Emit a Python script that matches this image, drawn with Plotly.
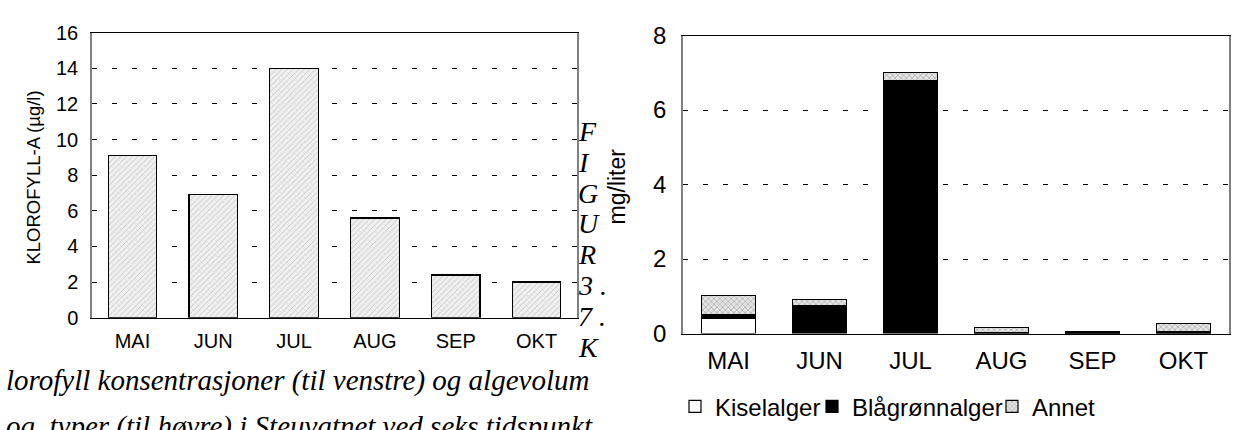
import plotly.graph_objects as go

W, H = 1235, 430

months = ["MAI", "JUN", "JUL", "AUG", "SEP", "OKT"]
klorofyll = [9.1, 6.9, 14.0, 5.6, 2.4, 2.0]

kiselalger = [0.41, 0.02, 0.02, 0.01, 0.0, 0.01]
blagronnalger = [0.09, 0.73, 6.76, 0.01, 0.02, 0.03]
annet = [0.52, 0.17, 0.23, 0.15, 0.03, 0.23]

left_yticks = [0, 2, 4, 6, 8, 10, 12, 14, 16]
right_yticks = [0, 2, 4, 6, 8]

fig_letters = ["F", "I", "G", "U", "R", "3 .", "7 .", "K"]
caption1 = "lorofyll konsentrasjoner (til venstre) og algevolum"
caption2 = "og  typer (til høyre) i Steuvatnet ved seks tidspunkt"


def px(x):
    return x / W


def py(y):
    return 1 - y / H


SANS = "Liberation Sans, Arial, sans-serif"
SERIF = "Liberation Serif, Times New Roman, serif"

fig = go.Figure()

fig.add_trace(go.Bar(
    x=months, y=klorofyll, width=0.6, showlegend=False,
    marker=dict(color="#e6e6e6", line=dict(color="black", width=1.2),
                pattern=dict(shape="/", fgcolor="#555", bgcolor="#efefef", size=4, solidity=0.12)),
    xaxis="x", yaxis="y",
))

fig.add_trace(go.Bar(
    x=months, y=kiselalger, width=0.6, name="Kiselalger", legend="legend",
    marker=dict(color="white", line=dict(color="black", width=1.2)),
    xaxis="x2", yaxis="y2",
))
fig.add_trace(go.Bar(
    x=months, y=blagronnalger, width=0.6, name="Blågrønnalger", legend="legend2",
    marker=dict(color="black", line=dict(color="black", width=1.2)),
    xaxis="x2", yaxis="y2",
))
fig.add_trace(go.Bar(
    x=months, y=annet, width=0.6, name="Annet", legend="legend3",
    marker=dict(color="#d0d0d0", line=dict(color="black", width=1.2),
                pattern=dict(shape="x", fgcolor="#666", bgcolor="#e4e4e4", size=4, solidity=0.3)),
    xaxis="x2", yaxis="y2",
))

grid = dict(showgrid=True, gridcolor="black", gridwidth=1, griddash="5px,15px")


def leg(xpix):
    return dict(orientation="h", x=px(xpix), y=py(419), xanchor="left", yanchor="middle",
                font=dict(size=24), itemwidth=30, bgcolor="rgba(0,0,0,0)")


fig.update_layout(
    width=W, height=H, margin=dict(l=0, r=0, t=0, b=0),
    paper_bgcolor="white", plot_bgcolor="white", barmode="stack",
    font=dict(family=SANS, color="black"),
    xaxis=dict(domain=[px(92), px(577)], anchor="y", showline=True, linecolor="black", linewidth=1,
               mirror=True, ticks="", tickfont=dict(size=20), ticklabelstandoff=5, showgrid=False),
    yaxis=dict(domain=[py(324), py(20)], anchor="x", range=[0, 16], tickvals=left_yticks,
               showline=True, linecolor="#808080", linewidth=1.5, mirror=True, ticks="",
               tickfont=dict(size=20), ticklabelstandoff=8, zeroline=False, **grid),
    xaxis2=dict(domain=[px(683), px(1229)], anchor="y2", showline=True, linecolor="black", linewidth=1,
                mirror=True, ticks="", tickfont=dict(size=24), ticklabelstandoff=6, showgrid=False),
    yaxis2=dict(domain=[py(341), py(23)], anchor="x2", range=[0, 8], tickvals=right_yticks,
                showline=True, linecolor="#808080", linewidth=1.5, mirror=True, ticks="",
                tickfont=dict(size=24), ticklabelstandoff=10, zeroline=False, **grid),
    legend=leg(675),
    legend2=leg(812),
    legend3=leg(992),
)

ann = []
ann.append(dict(text="KLOROFYLL-A (µg/l)", x=px(21), y=py(175), xref="paper", yref="paper",
                showarrow=False, textangle=-90, font=dict(size=18.5, family=SANS)))
ann.append(dict(text="mg/liter", x=px(617), y=py(184), xref="paper", yref="paper",
                showarrow=False, textangle=-90, font=dict(size=23, family=SANS)))
for i, ch in enumerate(fig_letters):
    base = 137 + i * 33.0
    ann.append(dict(text=f"<i>{ch}</i>", x=px(576), y=py(base - 12), xref="paper", yref="paper",
                    xanchor="left", yanchor="middle", showarrow=False,
                    font=dict(size=28, family=SERIF)))
ann.append(dict(text=f"<i>{caption1}</i>", x=px(4), y=py(391), xref="paper", yref="paper",
                xanchor="left", yanchor="middle", showarrow=False, font=dict(size=29, family=SERIF)))
ann.append(dict(text=f"<i>{caption2}</i>", x=px(4), y=py(440), xref="paper", yref="paper",
                xanchor="left", yanchor="middle", showarrow=False, font=dict(size=29, family=SERIF)))
fig.update_layout(annotations=ann)

fig.write_html("out.html")
